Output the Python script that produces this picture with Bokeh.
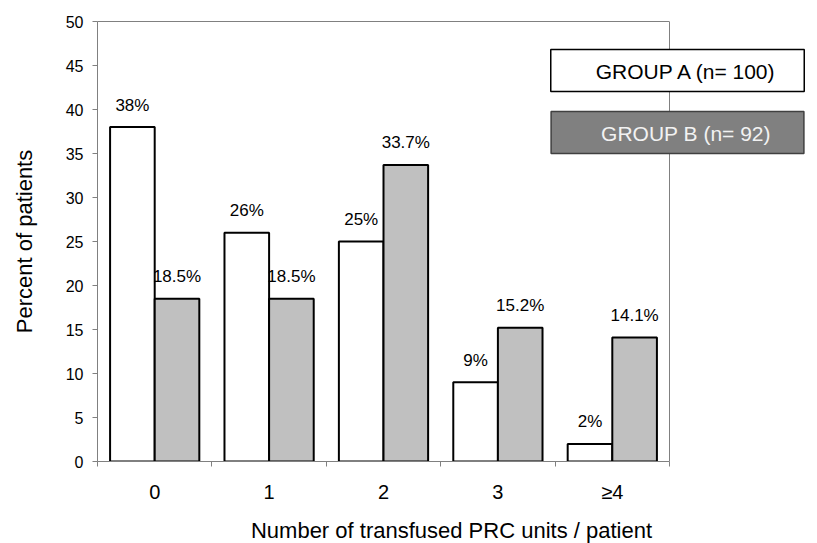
import numpy as np
from bokeh.plotting import figure
from bokeh.models import ColumnDataSource, FixedTicker, Label, Range1d, LinearAxis, Span
from bokeh.core.properties import value
from bokeh.embed import file_html
from bokeh.resources import INLINE

categories = ["0", "1", "2", "3", "≥4"]
group_a = [38, 26, 25, 9, 2]
group_b = [18.5, 18.5, 33.7, 15.2, 14.1]
labels_a = ["38%", "26%", "25%", "9%", "2%"]
labels_b = ["18.5%", "18.5%", "33.7%", "15.2%", "14.1%"]
legend_a = "GROUP A (n= 100)"
legend_b = "GROUP B (n= 92)"
y_ticks = list(range(0, 51, 5))

FONT = "Liberation Sans"
GRAY = "#808080"

n = len(categories)
xpos = np.arange(n)
src = ColumnDataSource(dict(
    xa=xpos - 0.195, xb=xpos + 0.195,
    a=group_a, b=group_b, la=labels_a, lb=labels_b,
))

PLOT_W = 572      # width of the bar area in px
FRAME_W = 708     # frame extends to the right to hold the legend boxes
x_end = -0.5 + n * FRAME_W / PLOT_W

p = figure(
    output_backend="svg", toolbar_location=None,
    frame_width=FRAME_W, frame_height=440,
    min_border_left=97, min_border_top=21, min_border_right=4, min_border_bottom=72,
    x_range=Range1d(-0.5, x_end), y_range=Range1d(0, 50),
    background_fill_color="white", border_fill_color="white",
)
p.outline_line_color = None
p.xgrid.visible = False
p.ygrid.visible = False

p.vbar(x="xa", top="a", bottom=0, width=0.39, source=src,
       fill_color="white", line_color="black", line_width=2)
p.vbar(x="xb", top="b", bottom=0, width=0.39, source=src,
       fill_color="#c0c0c0", line_color="black", line_width=2)

p.text(x="xa", y="a", text="la", source=src, text_align="center", text_baseline="middle",
       y_offset=-22, text_font=value(FONT), text_font_size="17px", text_color="black")
p.text(x="xb", y="b", text="lb", source=src, text_align="center", text_baseline="middle",
       y_offset=-22, text_font=value(FONT), text_font_size="17px", text_color="black")

# x axis
xa = p.xaxis[0]
xa.bounds = (-0.5, n - 0.5)
xa.ticker = FixedTicker(ticks=list(xpos), minor_ticks=list(np.arange(-0.5, n, 1.0)))
xa.major_label_overrides = {int(i): c for i, c in zip(xpos, categories)}
xa.major_tick_out = 0
xa.major_tick_in = 0
xa.minor_tick_out = 5
xa.minor_tick_in = 0
xa.minor_tick_line_color = GRAY
xa.axis_line_color = GRAY
xa.major_label_standoff = 14
xa.major_label_text_font = FONT
xa.major_label_text_font_size = "20px"
xa.major_label_text_color = "black"
xa.axis_label = "Number of transfused PRC units / patient"
xa.axis_label_text_font = FONT
xa.axis_label_text_font_size = "22px"
xa.axis_label_text_font_style = "normal"
xa.axis_label_text_color = "black"
xa.axis_label_standoff = 12

# top border of bar area
top = LinearAxis(bounds=(-0.5, n - 0.5), ticker=FixedTicker(ticks=[]),
                 axis_line_color=GRAY, major_tick_out=0, major_tick_in=0,
                 minor_tick_out=0, minor_tick_in=0, major_label_standoff=0,
                 major_label_text_font_size="0px")
p.add_layout(top, "above")
# right border of bar area
p.add_layout(Span(location=n - 0.5, dimension="height", line_color=GRAY, line_width=1))

ya = p.yaxis[0]
ya.ticker = FixedTicker(ticks=y_ticks)
ya.major_tick_out = 5
ya.major_tick_in = 0
ya.minor_tick_out = 0
ya.minor_tick_in = 0
ya.major_tick_line_color = GRAY
ya.axis_line_color = GRAY
ya.major_label_standoff = 9
ya.major_label_text_font = FONT
ya.major_label_text_font_size = "16px"
ya.major_label_text_color = "black"
ya.axis_label = "Percent of patients"
ya.axis_label_text_font = FONT
ya.axis_label_text_font_size = "22px"
ya.axis_label_text_font_style = "normal"
ya.axis_label_text_color = "black"
ya.axis_label_standoff = 26

lab_a = Label(x=580, y=391, x_units="screen", y_units="screen", text=legend_a,
              text_align="center", text_baseline="middle",
              text_font=FONT, text_font_size="21px", text_color="black",
              background_fill_color="white", border_line_color="black", border_line_width=1.5,
              padding=dict(left=45, right=27, top=10, bottom=9))
lab_b = Label(x=580, y=329, x_units="screen", y_units="screen", text=legend_b,
              text_align="center", text_baseline="middle",
              text_font=FONT, text_font_size="21px", text_color="#f2f2f2",
              background_fill_color=GRAY, border_line_color="#404040", border_line_width=1.5,
              padding=dict(left=50, right=33, top=10, bottom=9))
p.add_layout(lab_a)
p.add_layout(lab_b)

open("out.html", "w").write(file_html(p, INLINE))
